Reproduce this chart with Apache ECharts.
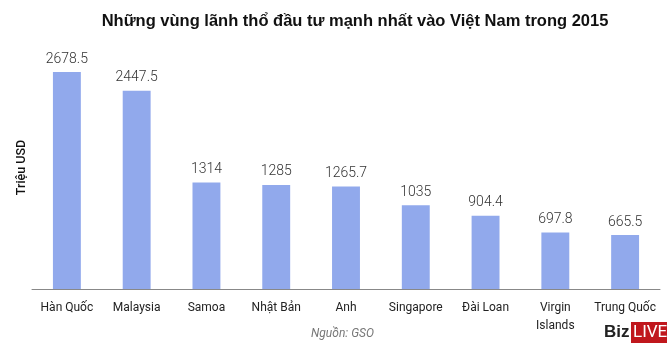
<!DOCTYPE html>
<html><head><meta charset="utf-8">
<script src="https://cdn.jsdelivr.net/npm/echarts@6/dist/echarts.min.js"></script>
<style>html,body{margin:0;padding:0;background:#fff}#c{width:670px;height:351px}</style>
</head><body><div id="c"></div>
<script>
const categories = ['Hàn Quốc','Malaysia','Samoa','Nhật Bản','Anh','Singapore','Đài Loan','Virgin\nIslands','Trung Quốc'];
const values = [2678.5, 2447.5, 1314, 1285, 1265.7, 1035, 904.4, 697.8, 665.5];
const valueLabels = ['2678.5','2447.5','1314','1285','1265.7','1035','904.4','697.8','665.5'];

const chart = echarts.init(document.getElementById('c'), null, {renderer:'canvas'});
chart.setOption({
  animation:false,
  backgroundColor:'#fff',
  title:{text:'Những vùng lãnh thổ đầu tư mạnh nhất vào Việt Nam trong 2015', left:350, top:8, textAlign:'center',
    textStyle:{fontFamily:'Liberation Sans', fontWeight:'bold', fontSize:16.5, color:'#111'}},
  grid:{left:32, right:10, top:46, bottom:62},
  xAxis:{type:'category', data:categories,
    axisLine:{lineStyle:{color:'#888'}}, axisTick:{lineStyle:{color:'#888'}, length:5},
    axisLabel:{color:'#222', fontFamily:'Roboto', fontSize:12, margin:10, lineHeight:18, interval:0}},
  yAxis:{type:'value', min:0, max:3000, name:'Triệu USD', nameLocation:'middle', nameGap:4, nameRotate:90,
    nameTextStyle:{color:'#111', fontFamily:'Roboto', fontSize:12.5, fontWeight:'500'},
    axisLine:{show:false}, axisTick:{show:false}, axisLabel:{show:false}, splitLine:{show:false}},
  series:[{type:'bar', data:values, barWidth:'40%', itemStyle:{color:'#91a9ec'},
    label:{show:true, position:'top', distance:6, color:'#333', fontFamily:'Roboto', fontWeight:300, fontSize:14,
      formatter:p=>valueLabels[p.dataIndex]}}],
  graphic:[
    {type:'text', left:311, top:328, style:{text:'Nguồn: GSO', fill:'#777', font:'italic 12px Roboto'}},
    {type:'text', left:604, top:324, style:{text:'Biz', fill:'#222', font:'bold 17px Liberation Sans'}},
    {type:'rect', left:631, top:322, shape:{width:36,height:21}, style:{fill:'#c0171d'}},
    {type:'text', left:633, top:324, style:{text:'LIVE', fill:'#fff', font:'17px Roboto'}}
  ]
});
</script></body></html>
